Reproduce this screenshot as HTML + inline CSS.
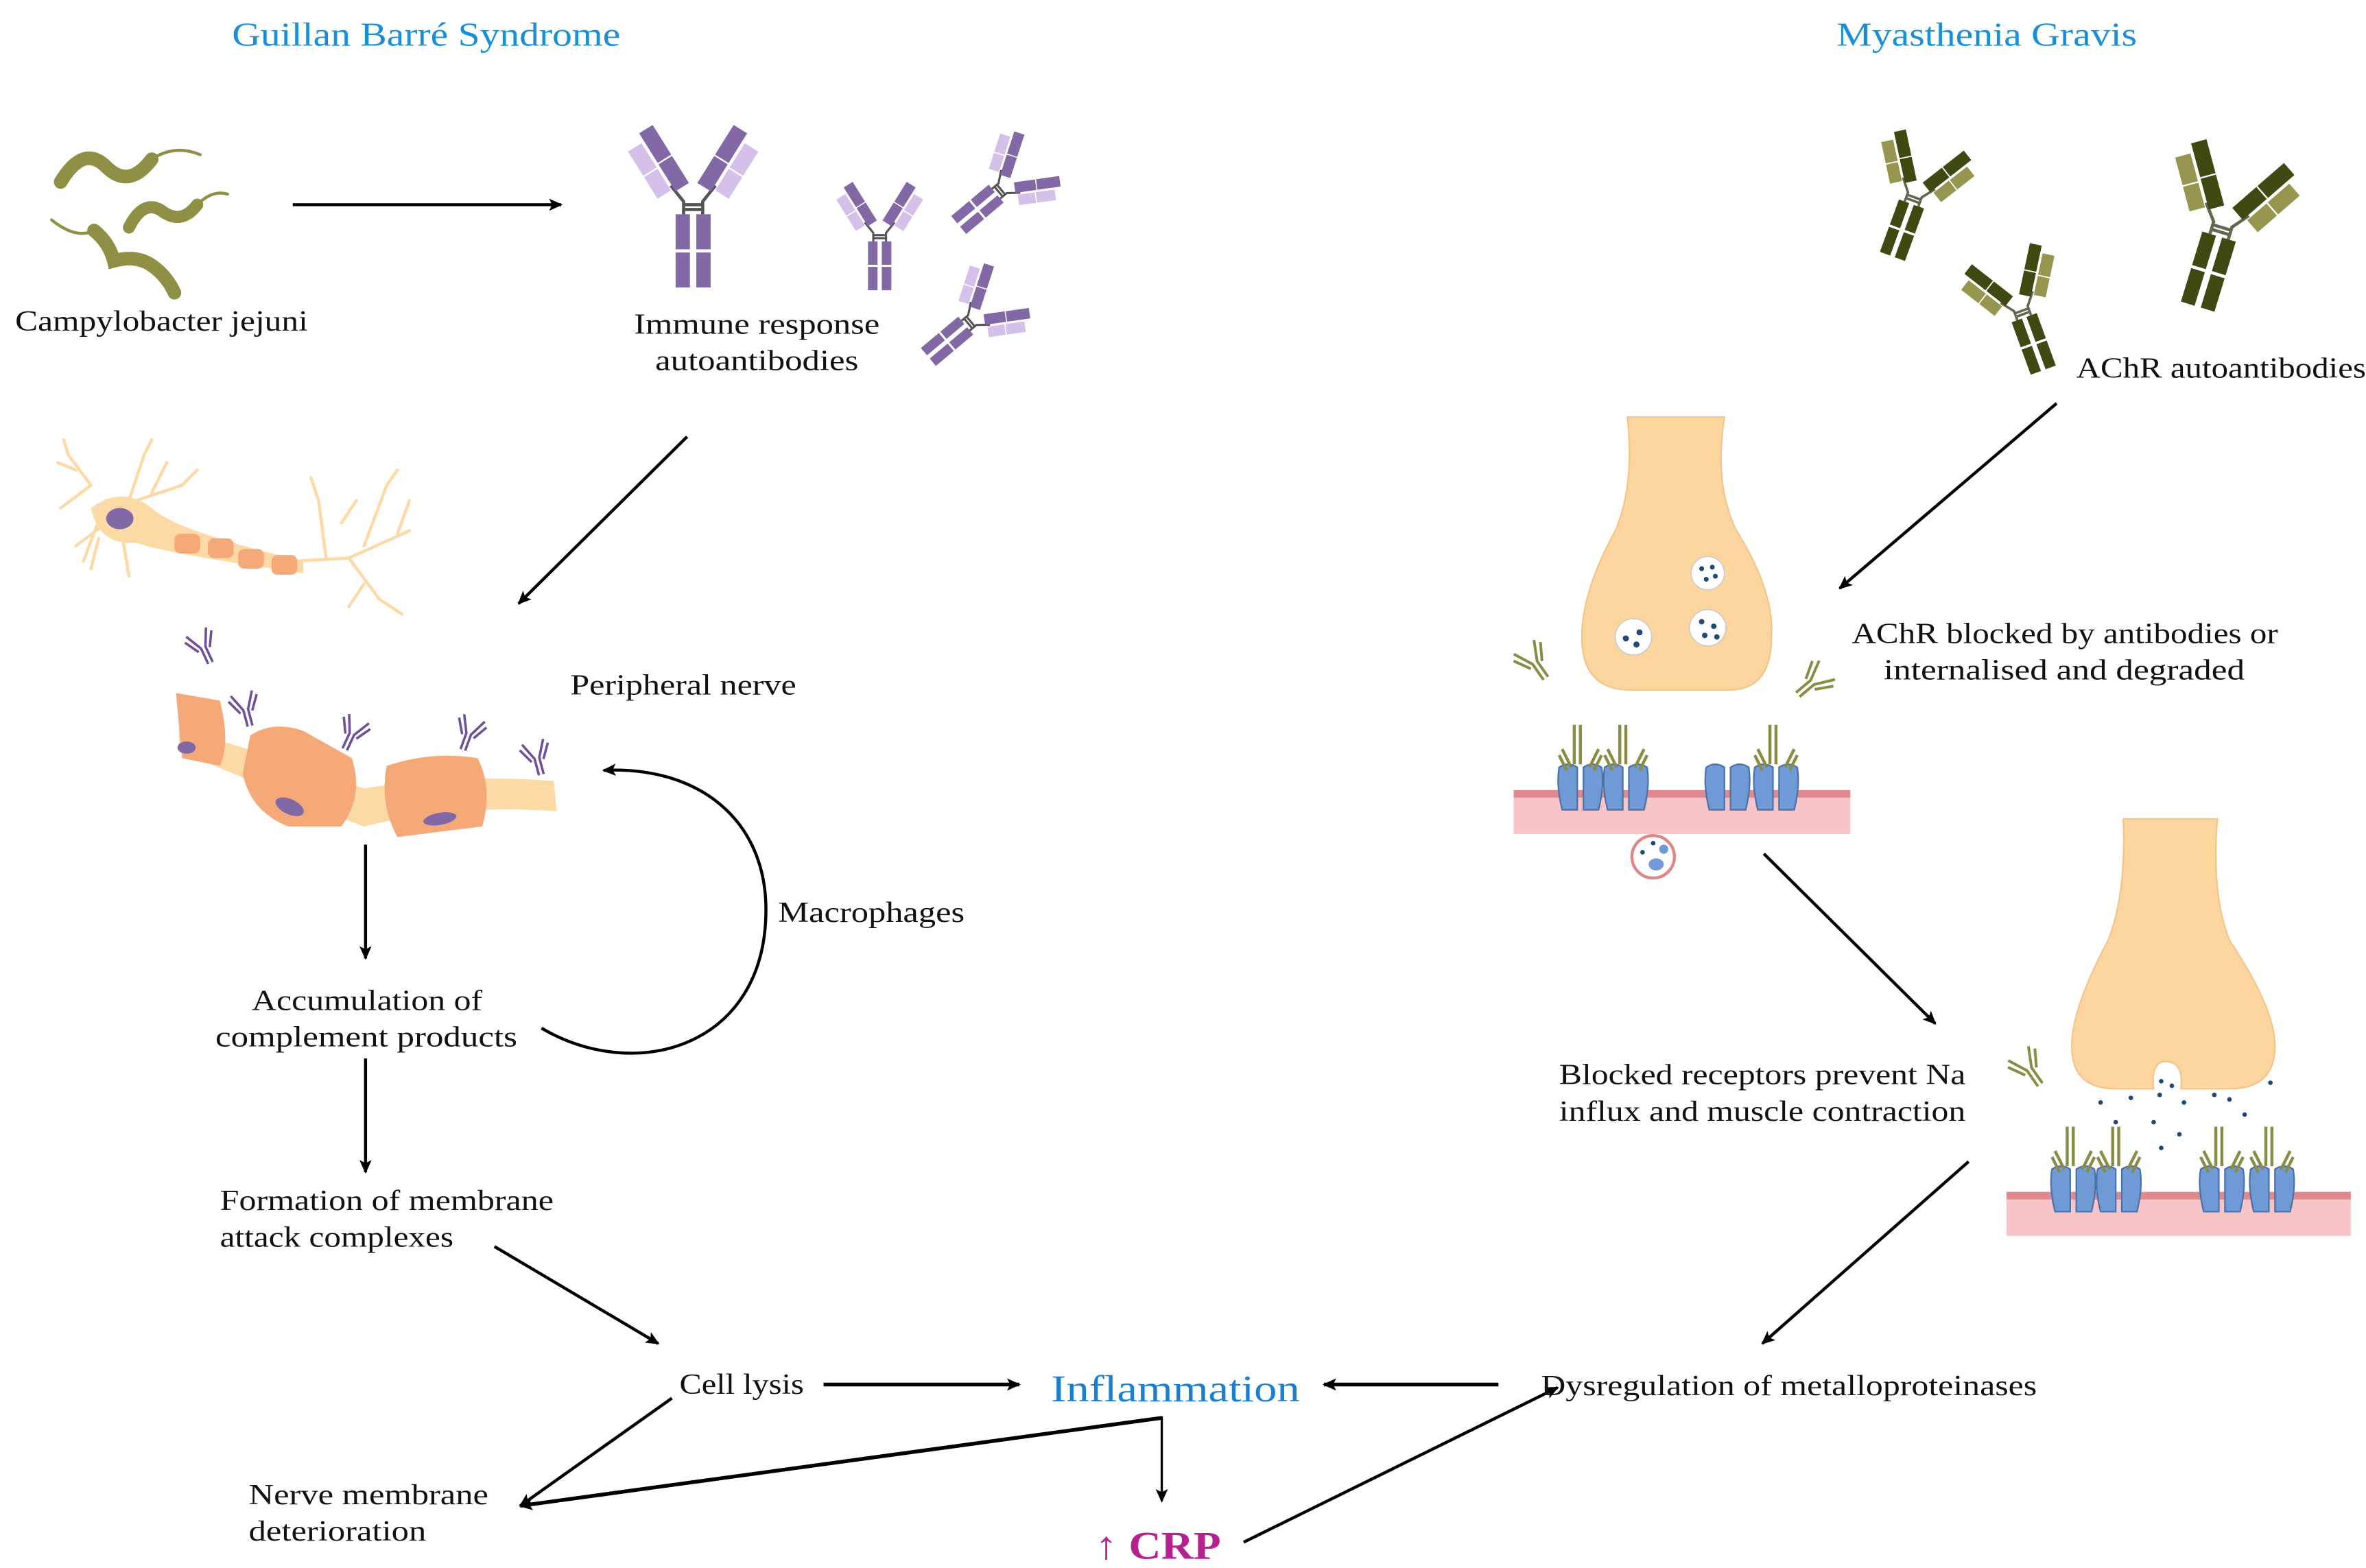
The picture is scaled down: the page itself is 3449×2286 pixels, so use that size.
<!DOCTYPE html>
<html><head><meta charset="utf-8"><style>
html,body{margin:0;padding:0;background:#fff;}
svg{display:block;}
text{font-family:"Liberation Serif",serif;fill:#111;}
</style></head><body>
<svg width="3449" height="2286" viewBox="0 0 1560 1034" xmlns="http://www.w3.org/2000/svg">
<defs>
<marker id="ah" markerWidth="10" markerHeight="10" refX="8" refY="5" orient="auto" markerUnits="userSpaceOnUse">
<path d="M0,1 L9,5 L0,9 L2,5 Z" fill="#000"/></marker>
<g id="abp">
 <rect x="-11" y="6" width="9" height="22" fill="#8368a6"/><rect x="2" y="6" width="9" height="22" fill="#8368a6"/>
 <rect x="-11" y="30" width="9" height="22" fill="#8368a6"/><rect x="2" y="30" width="9" height="22" fill="#8368a6"/>
 <path d="M-6,6 L-6,-2 L-14,-12 M6,6 L6,-2 L14,-12 M-6,0 H6 M-6,3 H6" stroke="#555" stroke-width="2" fill="none"/>
 <g transform="rotate(-32)"><rect x="-5" y="-56" width="10" height="22" fill="#8368a6"/><rect x="-5" y="-33" width="10" height="20" fill="#8368a6"/><rect x="-17" y="-50" width="10" height="18" fill="#d5c0ea"/><rect x="-17" y="-31" width="10" height="16" fill="#d5c0ea"/></g>
 <g transform="rotate(32)"><rect x="-5" y="-56" width="10" height="22" fill="#8368a6"/><rect x="-5" y="-33" width="10" height="20" fill="#8368a6"/><rect x="7" y="-50" width="10" height="18" fill="#d5c0ea"/><rect x="7" y="-31" width="10" height="16" fill="#d5c0ea"/></g>
</g>
<g id="abg">
 <rect x="-11" y="6" width="9" height="22" fill="#3e4a12"/><rect x="2" y="6" width="9" height="22" fill="#3e4a12"/>
 <rect x="-11" y="30" width="9" height="22" fill="#3e4a12"/><rect x="2" y="30" width="9" height="22" fill="#3e4a12"/>
 <path d="M-6,6 L-6,-2 L-14,-12 M6,6 L6,-2 L14,-12 M-6,0 H6 M-6,3 H6" stroke="#666650" stroke-width="2" fill="none"/>
 <g transform="rotate(-32)"><rect x="-5" y="-56" width="10" height="22" fill="#3e4a12"/><rect x="-5" y="-33" width="10" height="20" fill="#3e4a12"/><rect x="-17" y="-50" width="10" height="18" fill="#979650"/><rect x="-17" y="-31" width="10" height="16" fill="#979650"/></g>
 <g transform="rotate(32)"><rect x="-5" y="-56" width="10" height="22" fill="#3e4a12"/><rect x="-5" y="-33" width="10" height="20" fill="#3e4a12"/><rect x="7" y="-50" width="10" height="18" fill="#979650"/><rect x="7" y="-31" width="10" height="16" fill="#979650"/></g>
</g>
<path id="ly" d="M-2,14 V0 L-9,-14 M2,14 V0 L9,-14 M-5,2 L-12,-10 M5,2 L12,-10" fill="none" stroke-width="2"/>
<g id="rec">
 <path d="M-14,-14 Q-16,-2 -12,14 L-2,14 L-2,-14 Q-8,-18 -14,-14 Z M14,-14 Q16,-2 12,14 L2,14 L2,-14 Q8,-18 14,-14 Z" fill="#6f9ad6" stroke="#4a72a8" stroke-width="1"/>
</g>
<g id="recab">
 <use href="#rec"/>
 <path d="M-4,-16 V-42 M0,-16 V-42 M-6,-14 L-12,-26 M6,-14 L12,-26 M-9,-12 L-14,-22 M9,-12 L14,-22" stroke="#8a8c45" stroke-width="2" fill="none"/>
</g>
</defs>

<!-- titles -->
<text x="153" y="30" font-size="22" textLength="256" lengthAdjust="spacingAndGlyphs" style="fill:#1a8fd6">Guillan Barré Syndrome</text>
<text x="1211" y="30" font-size="22" textLength="198" lengthAdjust="spacingAndGlyphs" style="fill:#1a8fd6">Myasthenia Gravis</text>

<!-- bacteria -->
<g fill="none" stroke="#8f8f45" stroke-linecap="round">
<path d="M40,120 Q55,95 70,110 Q85,125 100,105" stroke-width="9"/>
<path d="M100,105 Q115,95 132,102" stroke-width="2"/>
<path d="M85,150 Q95,130 108,140 Q120,148 130,135" stroke-width="8"/>
<path d="M130,135 Q140,125 150,128" stroke-width="2"/>
<path d="M34,145 Q50,158 62,152" stroke-width="2"/>
<path d="M62,152 Q72,160 75,172 Q90,168 100,175 Q110,182 115,193" stroke-width="9"/>
</g>
<text x="10" y="218" font-size="19" textLength="193" lengthAdjust="spacingAndGlyphs">Campylobacter jejuni</text>
<line x1="193" y1="135" x2="370" y2="135" stroke="#000" stroke-width="2" marker-end="url(#ah)"/>

<!-- purple antibodies -->
<use href="#abp" transform="translate(457,135) scale(1.05)"/>
<use href="#abp" transform="translate(580,155) scale(0.7)"/>
<use href="#abp" transform="translate(660,125) rotate(50) scale(0.7)"/>
<use href="#abp" transform="translate(640,212) rotate(50) scale(0.7)"/>
<text x="418" y="220" font-size="19" textLength="162" lengthAdjust="spacingAndGlyphs">Immune response</text>
<text x="432" y="244" font-size="19" textLength="134" lengthAdjust="spacingAndGlyphs">autoantibodies</text>
<line x1="453" y1="288" x2="342" y2="398" stroke="#000" stroke-width="2" marker-end="url(#ah)"/>

<!-- neuron -->
<g fill="none" stroke="#fdd9a6" stroke-width="2" stroke-linecap="round">
<path d="M60,320 L45,300 M60,320 L40,335 M70,330 L55,370 M85,330 L95,300 M90,330 L120,320 M80,350 L85,380 M70,345 L50,360 M95,300 L100,290 M120,320 L130,310 M45,300 L42,290 M50,310 L38,305 M100,325 L110,305 M65,355 L60,375"/>
<path d="M195,370 L230,368 L270,350 M230,368 L250,395 M215,368 L210,330 M240,360 L255,320 M262,352 L270,330 M250,395 L265,405 M210,330 L205,315 M255,320 L262,310 M225,345 L235,330 M240,385 L230,400"/>
</g>
<path d="M60,335 Q80,320 100,335 Q115,350 200,370 L200,378 Q110,365 90,358 Q65,360 60,335 Z" fill="#fdd9a6"/>
<ellipse cx="79" cy="342" rx="9" ry="7" fill="#8368a6"/>
<g fill="#f5a878"><rect x="115" y="352" width="17" height="13" rx="4"/><rect x="137" y="355" width="17" height="13" rx="4"/><rect x="157" y="362" width="17" height="13" rx="4"/><rect x="179" y="366" width="17" height="13" rx="4"/></g>

<!-- nerve -->
<path d="M118,480 Q200,505 240,520 Q300,510 365,515 L367,535 Q300,530 240,545 Q200,530 118,495 Z" fill="#fdd9a6"/>
<path d="M116,457 L145,462 Q152,490 145,505 L120,500 Z" fill="#f5a878"/>
<path d="M165,485 Q180,475 200,482 L232,500 Q240,525 225,545 L190,545 Q165,535 160,510 Z" fill="#f5a878"/>
<path d="M255,505 Q285,495 315,500 Q325,520 318,545 L262,552 Q250,530 255,505 Z" fill="#f5a878"/>
<g fill="#8368a6"><ellipse cx="123" cy="493" rx="6" ry="4"/><ellipse cx="191" cy="532" rx="10" ry="5" transform="rotate(25 191 532)"/><ellipse cx="290" cy="540" rx="11" ry="4" transform="rotate(-10 290 540)"/></g>
<g stroke="#6d4f9a">
<use href="#ly" transform="translate(134,427) rotate(-25) scale(0.8)"/>
<use href="#ly" transform="translate(162,468) rotate(-15) scale(0.8)"/>
<use href="#ly" transform="translate(232,484) rotate(25) scale(0.8)"/>
<use href="#ly" transform="translate(309,484) rotate(20) scale(0.8)"/>
<use href="#ly" transform="translate(354,500) rotate(-15) scale(0.8)"/>
</g>
<text x="376" y="458" font-size="19" textLength="149" lengthAdjust="spacingAndGlyphs">Peripheral nerve</text>

<line x1="241" y1="557" x2="241" y2="632" stroke="#000" stroke-width="2" marker-end="url(#ah)"/>
<path d="M357,678 C420,715 505,690 505,600 C505,540 460,505 398,508" fill="none" stroke="#000" stroke-width="2" marker-end="url(#ah)"/>
<text x="513" y="608" font-size="19" textLength="123" lengthAdjust="spacingAndGlyphs">Macrophages</text>
<text x="166" y="666" font-size="19" textLength="152" lengthAdjust="spacingAndGlyphs">Accumulation of</text>
<text x="142" y="690" font-size="19" textLength="199" lengthAdjust="spacingAndGlyphs">complement products</text>
<line x1="241" y1="698" x2="241" y2="773" stroke="#000" stroke-width="2" marker-end="url(#ah)"/>
<text x="145" y="798" font-size="19" textLength="220" lengthAdjust="spacingAndGlyphs">Formation of membrane</text>
<text x="145" y="822" font-size="19" textLength="154" lengthAdjust="spacingAndGlyphs">attack complexes</text>
<line x1="326" y1="822" x2="434" y2="886" stroke="#000" stroke-width="2" marker-end="url(#ah)"/>
<text x="448" y="919" font-size="19" textLength="82" lengthAdjust="spacingAndGlyphs">Cell lysis</text>
<line x1="543" y1="913" x2="672" y2="913" stroke="#000" stroke-width="2.5" marker-end="url(#ah)"/>
<text x="693" y="924" font-size="25" textLength="164" lengthAdjust="spacingAndGlyphs" style="fill:#1a7fd0">Inflammation</text>
<line x1="766" y1="934" x2="766" y2="990" stroke="#000" stroke-width="1.5" marker-end="url(#ah)"/>
<text x="722" y="1028" font-size="26" font-weight="bold" textLength="83" lengthAdjust="spacingAndGlyphs" style="fill:#b5228f">↑ CRP</text>
<line x1="443" y1="922" x2="343" y2="993" stroke="#000" stroke-width="2" marker-end="url(#ah)"/>
<line x1="766" y1="935" x2="343" y2="993" stroke="#000" stroke-width="2.5" marker-end="url(#ah)"/>
<text x="164" y="992" font-size="19" textLength="158" lengthAdjust="spacingAndGlyphs">Nerve membrane</text>
<text x="164" y="1016" font-size="19" textLength="117" lengthAdjust="spacingAndGlyphs">deterioration</text>
<line x1="820" y1="1017" x2="1027" y2="915" stroke="#000" stroke-width="2" marker-end="url(#ah)"/>
<line x1="988" y1="913" x2="873" y2="913" stroke="#000" stroke-width="2.5" marker-end="url(#ah)"/>
<text x="1016" y="920" font-size="19" textLength="327" lengthAdjust="spacingAndGlyphs">Dysregulation of metalloproteinases</text>

<!-- MG antibodies -->
<use href="#abg" transform="translate(1262,130) rotate(20) scale(0.8)"/>
<use href="#abg" transform="translate(1333,205) rotate(-20) scale(0.8)"/>
<use href="#abg" transform="translate(1465,150) rotate(17) scale(1.05)"/>
<text x="1369" y="249" font-size="19" textLength="191" lengthAdjust="spacingAndGlyphs">AChR autoantibodies</text>
<line x1="1356" y1="266" x2="1213" y2="388" stroke="#000" stroke-width="2" marker-end="url(#ah)"/>

<!-- terminal 1 -->
<path d="M1073,275 L1137,275 Q1130,320 1145,350 Q1170,390 1168,420 Q1168,455 1140,455 L1075,455 Q1043,455 1043,420 Q1043,390 1065,350 Q1078,320 1073,275 Z" fill="#fdd59e" stroke="#f5c48a" stroke-width="1"/>
<g fill="#fff" stroke="#ccc" stroke-width="0.8"><circle cx="1126" cy="378" r="11"/><circle cx="1077" cy="420" r="12"/><circle cx="1126" cy="414" r="12"/></g>
<g fill="#1f4a75"><circle cx="1122" cy="375" r="1.6"/><circle cx="1129" cy="374" r="1.6"/><circle cx="1125" cy="382" r="1.6"/><circle cx="1131" cy="380" r="1.6"/><circle cx="1072" cy="421" r="2"/><circle cx="1081" cy="417" r="2"/><circle cx="1079" cy="425" r="2"/><circle cx="1122" cy="410" r="1.8"/><circle cx="1130" cy="413" r="1.8"/><circle cx="1124" cy="419" r="1.8"/><circle cx="1132" cy="420" r="1.8"/></g>
<g stroke="#8a8c45"><use href="#ly" transform="translate(1012,437) rotate(-35) scale(0.9)"/><use href="#ly" transform="translate(1195,450) rotate(50) scale(0.9)"/></g>
<rect x="998" y="521" width="222" height="29" fill="#f7c5c8"/>
<rect x="998" y="521" width="222" height="5" fill="#e08a90"/>
<use href="#recab" transform="translate(1042,520)"/>
<use href="#recab" transform="translate(1072,520)"/>
<use href="#rec" transform="translate(1139,520)"/>
<use href="#recab" transform="translate(1171,520)"/>
<circle cx="1090" cy="565" r="14" fill="#fff" stroke="#d88" stroke-width="2"/>
<ellipse cx="1092" cy="570" rx="5" ry="4" fill="#6f9ad6"/><circle cx="1097" cy="560" r="3" fill="#6f9ad6"/><circle cx="1083" cy="562" r="1.5" fill="#1f4a75"/><circle cx="1090" cy="556" r="1.5" fill="#1f4a75"/>
<text x="1221" y="424" font-size="19" textLength="281" lengthAdjust="spacingAndGlyphs">AChR blocked by antibodies or</text>
<text x="1242" y="448" font-size="19" textLength="238" lengthAdjust="spacingAndGlyphs">internalised and degraded</text>
<line x1="1163" y1="563" x2="1276" y2="675" stroke="#000" stroke-width="2" marker-end="url(#ah)"/>

<!-- terminal 2 -->
<path d="M1400,540 L1462,540 Q1458,590 1470,620 Q1500,665 1500,690 Q1500,718 1470,718 L1438,718 Q1440,700 1428,700 Q1418,700 1420,718 L1395,718 Q1366,718 1366,690 Q1366,665 1390,620 Q1402,590 1400,540 Z" fill="#fdd59e" stroke="#f5c48a" stroke-width="1"/>
<g fill="#1f4a75"><circle cx="1425" cy="713" r="1.5"/><circle cx="1432" cy="716" r="1.5"/><circle cx="1424" cy="722" r="1.5"/><circle cx="1385" cy="727" r="1.5"/><circle cx="1405" cy="724" r="1.5"/><circle cx="1440" cy="727" r="1.5"/><circle cx="1470" cy="725" r="1.5"/><circle cx="1497" cy="714" r="1.5"/><circle cx="1480" cy="735" r="1.5"/><circle cx="1420" cy="740" r="1.5"/><circle cx="1437" cy="748" r="1.5"/><circle cx="1395" cy="740" r="1.5"/><circle cx="1425" cy="757" r="1.5"/><circle cx="1460" cy="722" r="1.5"/></g>
<g stroke="#8a8c45"><use href="#ly" transform="translate(1338,705) rotate(-35) scale(0.9)"/></g>
<rect x="1323" y="786" width="227" height="29" fill="#f7c5c8"/>
<rect x="1323" y="786" width="227" height="5" fill="#e08a90"/>
<use href="#recab" transform="translate(1367,785)"/>
<use href="#recab" transform="translate(1397,785)"/>
<use href="#recab" transform="translate(1465,785)"/>
<use href="#recab" transform="translate(1498,785)"/>
<text x="1028" y="715" font-size="19" textLength="268" lengthAdjust="spacingAndGlyphs">Blocked receptors prevent Na</text>
<text x="1028" y="739" font-size="19" textLength="268" lengthAdjust="spacingAndGlyphs">influx and muscle contraction</text>
<line x1="1298" y1="766" x2="1162" y2="886" stroke="#000" stroke-width="2" marker-end="url(#ah)"/>
</svg>
</body></html>
